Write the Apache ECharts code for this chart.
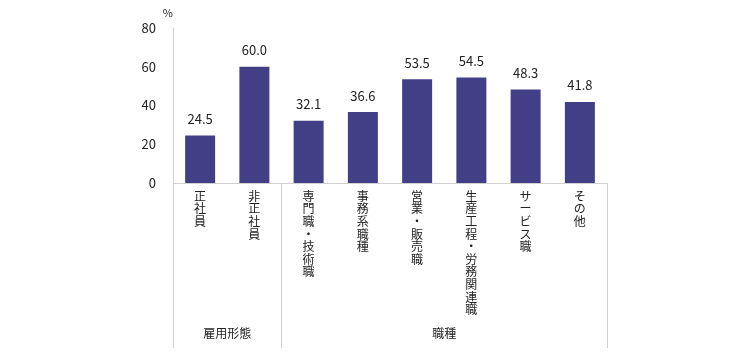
<!DOCTYPE html>
<html>
<head>
<meta charset="utf-8">
<script src="https://cdn.jsdelivr.net/npm/echarts@6/dist/echarts.min.js"></script>
<style>
  html, body { margin: 0; padding: 0; background: #fff; }
  #chart { width: 750px; height: 352px; }
</style>
</head>
<body>
<div id="chart"></div>
<script>
const categories = ['正社員', '非正社員', '専門職・技術職', '事務系職種', '営業・販売職', '生産工程・労務関連職', 'サービス職', 'その他']
const values = [24.5, 60.0, 32.1, 36.6, 53.5, 54.5, 48.3, 41.8]
const groupNames = ['雇用形態', '職種']
const groupCenters = [1, 5]
const groupBounds = [0, 2, 8]
const yTicks = [0, 20, 40, 60, 80]

const font = '"Noto Sans CJK JP", "Noto Sans", sans-serif'
const chart = echarts.init(document.getElementById('chart'))

chart.setOption({
  animation: false,
  textStyle: { fontFamily: font },
  grid: { left: 173, right: 143, top: 28, bottom: 169 },
  xAxis: [
    {
      type: 'category',
      data: categories,
      axisLine: { lineStyle: { color: '#d0d0d0' } },
      axisTick: { show: false },
      axisLabel: {
        interval: 0,
        color: '#222',
        fontSize: 12,
        lineHeight: 12.6,
        verticalAlign: 'top',
        margin: 7,
        formatter: (v) => v.split('').join('\n'),
      },
    },
    {
      type: 'value',
      position: 'bottom',
      offset: 165,
      min: 0,
      max: 8,
      axisLine: { show: false },
      splitLine: { show: false },
      axisTick: {
        show: true,
        inside: true,
        length: 165,
        customValues: groupBounds,
        lineStyle: { color: '#d0d0d0' },
      },
      axisLabel: {
        inside: true,
        margin: 9,
        color: '#222',
        fontSize: 12,
        customValues: groupCenters,
        formatter: (v) => groupNames[groupCenters.indexOf(v)],
      },
    },
  ],
  yAxis: {
    type: 'value',
    min: yTicks[0],
    max: yTicks[yTicks.length - 1],
    interval: 20,
    name: '%',
    nameGap: 10,
    nameTextStyle: { color: '#222', fontSize: 11, align: 'right', padding: [0, 0, 0, 0] },
    axisLine: { show: true, lineStyle: { color: '#d0d0d0' } },
    axisTick: { show: false },
    splitLine: { show: false },
    axisLabel: { color: '#222', fontSize: 13, margin: 17 },
  },
  series: [
    {
      type: 'bar',
      data: values,
      barWidth: 30,
      itemStyle: { color: '#433f86' },
      label: {
        show: true,
        position: 'top',
        distance: 10,
        color: '#222',
        fontSize: 13,
        formatter: (p) => p.value.toFixed(1),
      },
    },
  ],
})
</script>
</body>
</html>
